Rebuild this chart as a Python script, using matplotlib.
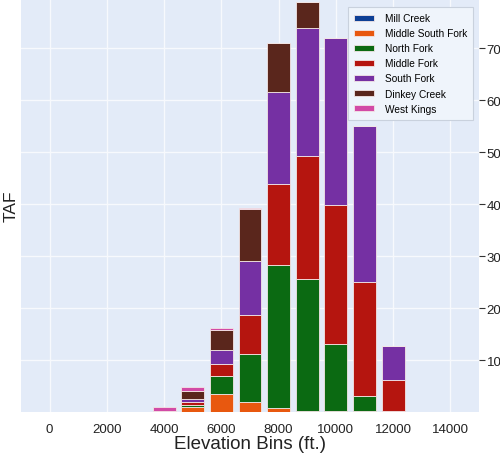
import matplotlib
matplotlib.use("Agg")
import matplotlib.pyplot as plt
import numpy as np

plt.rcParams['font.family'] = ['Liberation Sans', 'DejaVu Sans']

# Elevation bin centres (ft.) and storage per basin (TAF)
bins = [4000, 5000, 6000, 7000, 8000, 9000, 10000, 11000, 12000]
mill_creek = [0.0, 0.0, 0.0, 0.0, 0.0, 0.0, 0.0, 0.0, 0.0]
middle_south_fork = [0.2, 1.0, 3.4, 1.9, 0.8, 0.3, 0.3, 0.2, 0.2]
north_fork = [0.0, 0.3, 3.6, 9.3, 27.4, 25.3, 12.8, 2.9, 0.0]
middle_fork = [0.0, 0.6, 2.2, 7.5, 15.6, 23.6, 26.7, 22.0, 6.0]
south_fork = [0.0, 0.7, 2.7, 10.4, 17.7, 24.6, 32.1, 29.9, 6.5]
dinkey_creek = [0.0, 1.4, 3.8, 10.0, 9.5, 5.1, 0.0, 0.0, 0.0]
west_kings = [0.8, 0.8, 0.5, 0.2, 0.0, 0.0, 0.0, 0.0, 0.0]

series_names = ["Mill Creek", "Middle South Fork", "North Fork", "Middle Fork",
                "South Fork", "Dinkey Creek", "West Kings"]
series_values = [mill_creek, middle_south_fork, north_fork, middle_fork,
                 south_fork, dinkey_creek, west_kings]
series_colors = ["#0d3f95", "#e8580f", "#0b6a12", "#b5150f",
                 "#7530a3", "#5a261c", "#d24aa6"]

x_ticks = [0, 2000, 4000, 6000, 8000, 10000, 12000, 14000]
y_ticks = [10, 20, 30, 40, 50, 60, 70]

fig = plt.figure(figsize=(5.0, 4.56), dpi=100)
ax = fig.add_axes([0.042, 0.094, 0.916, 0.908])
ax.set_facecolor("#e3ebf8")

bottom = np.zeros(len(bins))
for name, vals, col in zip(series_names, series_values, series_colors):
    vals = np.asarray(vals, dtype=float)
    ax.bar(bins, vals, width=800, bottom=bottom, color=col,
           edgecolor="#f3e6e6", linewidth=0.6, label=name, zorder=3)
    bottom += vals

ax.set_xlim(-1000, 15000)
ax.set_ylim(0, 79.6)
ax.set_xticks(x_ticks)
ax.set_xticklabels([str(v) for v in x_ticks])
ax.set_yticks(y_ticks)
ax.grid(True, color="#f7f9fd", linewidth=1.0, zorder=0)
ax.set_axisbelow(True)
for s in ax.spines.values():
    s.set_visible(False)

ax.yaxis.tick_right()
ax.yaxis.set_label_position("left")
ax.tick_params(axis="y", which="both", length=4, width=0.8, color="#333333",
               pad=1.5, labelsize=9.5, labelcolor="#222222", direction="out")
ax.tick_params(axis="x", length=0, pad=8, labelsize=9.5, labelcolor="#222222")

ax.set_xlabel("Elevation Bins (ft.)", fontsize=13.5, color="#222222", labelpad=0)
ax.set_ylabel("TAF", fontsize=12.5, color="#222222", labelpad=2)

leg = ax.legend(loc="upper right", bbox_to_anchor=(478 / 500, 1 - 3 / 456),
                bbox_transform=fig.transFigure, fontsize=7.3, frameon=True,
                handlelength=2.0, handleheight=0.55, handletextpad=1.0,
                labelspacing=0.5, borderpad=0.6, fancybox=False)
leg.get_frame().set_facecolor("#eff4fb")
leg.get_frame().set_edgecolor("#c9d1dd")
leg.get_frame().set_linewidth(0.8)
leg.get_frame().set_alpha(1.0)

fig.savefig("out.png", dpi=100, facecolor="white")
